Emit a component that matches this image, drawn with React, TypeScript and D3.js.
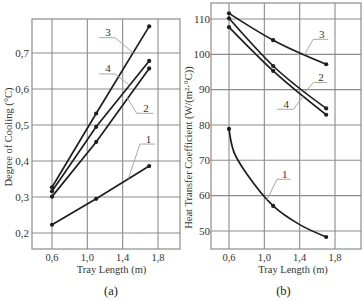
import { useEffect, useRef } from "react"
import * as d3 from "d3"

// tray lengths where the measurements were taken (m)
const trayLength = [0.6, 1.1, 1.7]
const xTicks = [0.6, 1.0, 1.4, 1.8]

// (a) degree of cooling, °C
const cooling1 = [0.223, 0.295, 0.386]
const cooling2 = [0.301, 0.453, 0.657]
const cooling3 = [0.327, 0.532, 0.774]
const cooling4 = [0.316, 0.495, 0.678]
const coolingTicks = [0.2, 0.3, 0.4, 0.5, 0.6, 0.7]

// (b) heat transfer coefficient, W/(m²·°C)
const heat1 = [78.9, 57.1, 48.3]
const heat2 = [110.2, 96.7, 84.7]
const heat3 = [111.6, 104.0, 97.2]
const heat4 = [107.7, 95.3, 82.9]
const heatTicks = [50, 60, 70, 80, 90, 100, 110]

// curve 1 of (b)
const heat1TraceX = [0.6, 0.655, 0.8, 1.1, 1.4, 1.7]
const heat1TraceY = [78.9, 72.4, 66.2, 57.1, 51.8, 48.3]

interface Series {
  id: string
  y: number[]
  traceX?: number[]
  traceY?: number[]
}

interface Callout {
  id: string
  bar: [number, number, number] // x0, x1, y in data units
  tip: [number, number]
  side: "left" | "right"
}

const coolingSeries: Series[] = [
  { id: "1", y: cooling1 },
  { id: "2", y: cooling2 },
  { id: "3", y: cooling3 },
  { id: "4", y: cooling4 },
]

const heatSeries: Series[] = [
  { id: "1", y: heat1, traceX: heat1TraceX, traceY: heat1TraceY },
  { id: "2", y: heat2 },
  { id: "3", y: heat3 },
  { id: "4", y: heat4 },
]

const coolingCallouts: Callout[] = [
  { id: "3", bar: [1.132, 1.313, 0.7425], tip: [1.52, 0.7], side: "right" },
  { id: "4", bar: [1.132, 1.313, 0.6417], tip: [1.477, 0.611], side: "right" },
  { id: "2", bar: [1.559, 1.747, 0.5325], tip: [1.454, 0.575], side: "left" },
  { id: "1", bar: [1.596, 1.766, 0.447], tip: [1.464, 0.351], side: "left" },
]

const heatCallouts: Callout[] = [
  { id: "3", bar: [1.554, 1.724, 104.26], tip: [1.455, 99.96], side: "left" },
  { id: "2", bar: [1.554, 1.706, 92.03], tip: [1.46, 89.3], side: "left" },
  { id: "4", bar: [1.143, 1.33, 84.45], tip: [1.438, 88.1], side: "right" },
  { id: "1", bar: [1.143, 1.294, 64.63], tip: [1.03, 58.8], side: "left" },
]

const FONT = "'Liberation Serif', 'Times New Roman', serif"
const GRID = "#8c8c8c"
const INK = "#1e1e1e"
const LEADER = "#a8a8a8"

interface PanelProps {
  box: { left: number; top: number; right: number; bottom: number }
  xDomain: [number, number]
  yDomain: [number, number]
  yTicks: number[]
  series: Series[]
  callouts: Callout[]
  smooth: boolean
  yFormat: (v: number) => string
  yTickGap: number
  yTitle: string
  yTitleX: number
  yTitleY: number
  xTitleX: number
  caption: string
  captionX: number
}

const comma = (f: string) => (v: number) => d3.format(f)(v).replace(".", ",")

function Panel(p: PanelProps) {
  const gRef = useRef<SVGGElement>(null)

  useEffect(() => {
    const g = d3.select(gRef.current!)
    g.selectAll("*").remove()
    const { left, top, right, bottom } = p.box

    const x = d3.scaleLinear().domain(p.xDomain).range([left, right])
    const y = d3.scaleLinear().domain(p.yDomain).range([bottom, top])

    // grid
    g.append("g")
      .selectAll("line")
      .data(xTicks)
      .enter()
      .append("line")
      .attr("x1", (d) => x(d))
      .attr("x2", (d) => x(d))
      .attr("y1", top)
      .attr("y2", bottom)
      .attr("stroke", GRID)
      .attr("stroke-width", 1.1)
    g.append("g")
      .selectAll("line")
      .data(p.yTicks)
      .enter()
      .append("line")
      .attr("x1", left)
      .attr("x2", right)
      .attr("y1", (d) => y(d))
      .attr("y2", (d) => y(d))
      .attr("stroke", GRID)
      .attr("stroke-width", 1.1)
    g.append("rect")
      .attr("x", left)
      .attr("y", top)
      .attr("width", right - left)
      .attr("height", bottom - top)
      .attr("fill", "none")
      .attr("stroke", GRID)
      .attr("stroke-width", 1.2)

    // tick labels
    g.append("g")
      .selectAll("text")
      .data(xTicks)
      .enter()
      .append("text")
      .attr("x", (d) => x(d))
      .attr("y", bottom + 11.5)
      .attr("text-anchor", "middle")
      .attr("font-size", 10.5)
      .attr("fill", "#333")
      .text((d) => comma(".1f")(d))
    g.append("g")
      .selectAll("text")
      .data(p.yTicks)
      .enter()
      .append("text")
      .attr("x", left - p.yTickGap)
      .attr("y", (d) => y(d) + 3.8)
      .attr("text-anchor", "end")
      .attr("font-size", 11)
      .attr("fill", "#333")
      .text((d) => p.yFormat(d))

    // curves
    const line = d3
      .line<[number, number]>()
      .x((d) => x(d[0]))
      .y((d) => y(d[1]))
    const curves = g.append("g")
    p.series.forEach((s) => {
      const pts: [number, number][] = s.traceX
        ? s.traceX.map((v, i) => [v, s.traceY![i]])
        : trayLength.map((v, i) => [v, s.y[i]])
      line.curve(
        s.traceX ? d3.curveCatmullRom.alpha(0.5) : p.smooth ? d3.curveMonotoneX : d3.curveLinear,
      )
      curves
        .append("path")
        .attr("d", line(pts))
        .attr("fill", "none")
        .attr("stroke", INK)
        .attr("stroke-width", 1.7)
      curves
        .selectAll(null)
        .data(trayLength.map((v, i) => [v, s.y[i]]))
        .enter()
        .append("circle")
        .attr("cx", (d) => x(d[0]))
        .attr("cy", (d) => y(d[1]))
        .attr("r", 2.1)
        .attr("fill", INK)
    })

    // numbered callouts
    const notes = g.append("g")
    p.callouts.forEach((c) => {
      const [x0, x1, yb] = c.bar
      const from = c.side === "left" ? x0 : x1
      notes
        .append("line")
        .attr("x1", x(x0))
        .attr("y1", y(yb))
        .attr("x2", x(x1))
        .attr("y2", y(yb))
        .attr("stroke", LEADER)
        .attr("stroke-width", 1)
      notes
        .append("line")
        .attr("x1", x(from))
        .attr("y1", y(yb))
        .attr("x2", x(c.tip[0]))
        .attr("y2", y(c.tip[1]))
        .attr("stroke", LEADER)
        .attr("stroke-width", 1)
      notes
        .append("text")
        .attr("x", (x(x0) + x(x1)) / 2 + 1)
        .attr("y", y(yb) - 1.5)
        .attr("text-anchor", "middle")
        .attr("font-size", 11)
        .attr("fill", "#333")
        .text(c.id)
    })

    // titles
    g.append("text")
      .attr("transform", `translate(${p.yTitleX},${p.yTitleY}) rotate(-90)`)
      .attr("text-anchor", "middle")
      .attr("font-size", 10.5)
      .attr("fill", "#333")
      .text(p.yTitle)
    g.append("text")
      .attr("x", p.xTitleX)
      .attr("y", 273)
      .attr("text-anchor", "middle")
      .attr("font-size", 10.5)
      .attr("fill", "#333")
      .text("Tray Length (m)")
    g.append("text")
      .attr("x", p.captionX)
      .attr("y", 295)
      .attr("text-anchor", "middle")
      .attr("font-size", 12.5)
      .attr("fill", "#222")
      .text(p.caption)
  }, [p])

  return <g ref={gRef} />
}

export default function App() {
  return (
    <svg
      width={364}
      height={301}
      style={{ position: "absolute", left: 0, top: 0, background: "#fff", fontFamily: FONT }}
    >
      <Panel
        box={{ left: 32, top: 19, right: 180, bottom: 249 }}
        xDomain={[0.3736, 2.049]}
        yDomain={[0.1556, 0.7944]}
        yTicks={coolingTicks}
        series={coolingSeries}
        callouts={coolingCallouts}
        smooth={false}
        yFormat={comma(".1f")}
        yTickGap={3}
        yTitle="Degree of Cooling (°C)"
        yTitleX={12}
        yTitleY={137}
        xTitleX={111.5}
        caption="(a)"
        captionX={111}
      />
      <Panel
        box={{ left: 211, top: 3, right: 361, bottom: 249 }}
        xDomain={[0.3962, 2.094]}
        yDomain={[44.9, 114.53]}
        yTicks={heatTicks}
        series={heatSeries}
        callouts={heatCallouts}
        smooth={true}
        yFormat={d3.format("d")}
        yTickGap={1}
        yTitle="Heat Transfer Coefficient (W/(m²·°C))"
        yTitleX={191.5}
        yTitleY={147.5}
        xTitleX={293}
        caption="(b)"
        captionX={283.5}
      />
    </svg>
  )
}
